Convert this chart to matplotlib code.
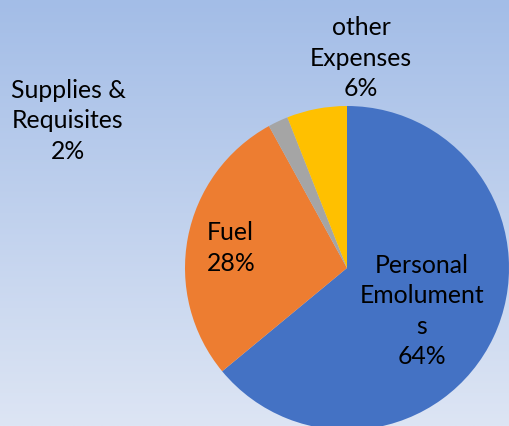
import numpy as np
import matplotlib
matplotlib.use("Agg")
import matplotlib.pyplot as plt
from matplotlib.colors import LinearSegmentedColormap

categories = ["Personal\nEmolument\ns", "Fuel", "Supplies &\nRequisites", "other\nExpenses"]
values = [64, 28, 2, 6]
colors = ["#4472C4", "#ED7D31", "#A5A5A5", "#FFC000"]
# label centre positions in pixels (x, y from top)
label_pos = [(422, 311), (207, 248), (68, 121), (361, 58)]
label_ha = ["center", "left", "center", "center"]

W, H = 509, 426
fig = plt.figure(figsize=(W / 100, H / 100), dpi=100)

# gradient background
bg = fig.add_axes([0, 0, 1, 1])
cmap = LinearSegmentedColormap.from_list("bg", ["#a3bde7", "#dde5f4"])
grad = np.linspace(0, 1, 256).reshape(-1, 1)
bg.imshow(grad, aspect="auto", cmap=cmap, extent=[0, 1, 0, 1], origin="upper")
bg.set_axis_off()

cx, cy, r = 347, 268, 162
ax = fig.add_axes([(cx - r) / W, (H - cy - r) / H, 2 * r / W, 2 * r / H])
ax.pie(values, colors=colors, startangle=90, counterclock=False, radius=1,
       wedgeprops=dict(linewidth=0))
ax.set_xlim(-1, 1)
ax.set_ylim(-1, 1)
ax.set_aspect("auto")
ax.set_axis_off()

total = sum(values)
for cat, v, (px, py), ha in zip(categories, values, label_pos, label_ha):
    txt = f"{cat}\n{round(100 * v / total)}%"
    fig.text(px / W, 1 - py / H, txt, ha=ha, va="center", multialignment=ha,
             fontsize=17.8, family=["Lato", "DejaVu Sans"], color="#000000",
             linespacing=1.4)

fig.savefig("out.png", dpi=100)
